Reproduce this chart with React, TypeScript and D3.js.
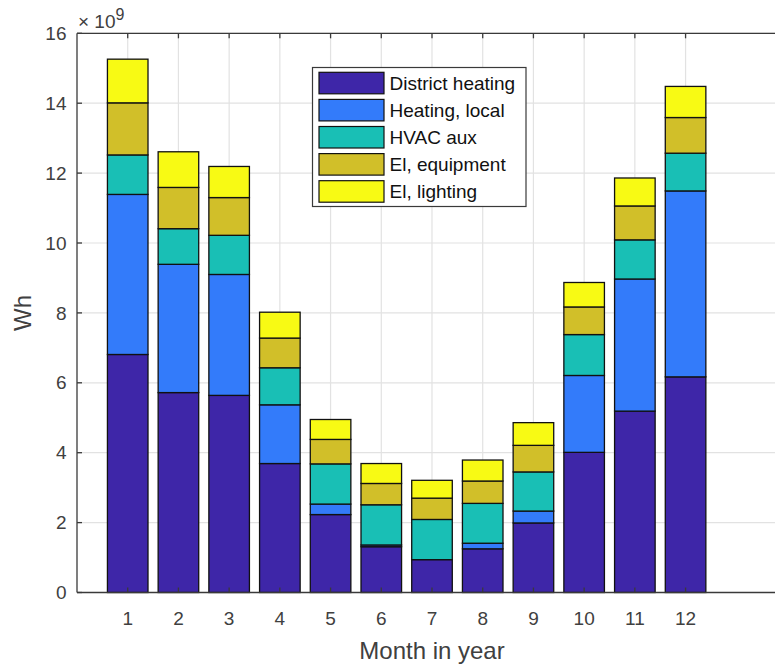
import React from "react";
import * as d3 from "d3";

// Monthly energy use by end use, in units of 1e9 Wh
const months = [1, 2, 3, 4, 5, 6, 7, 8, 9, 10, 11, 12];
const districtHeating = [6.81, 5.72, 5.64, 3.69, 2.23, 1.31, 0.94, 1.25, 1.99, 4.01, 5.19, 6.17];
const heatingLocal = [4.58, 3.67, 3.46, 1.68, 0.30, 0.05, 0.0, 0.16, 0.34, 2.20, 3.78, 5.32];
const hvacAux = [1.13, 1.02, 1.12, 1.06, 1.15, 1.15, 1.15, 1.14, 1.12, 1.17, 1.12, 1.08];
const elEquipment = [1.49, 1.18, 1.08, 0.85, 0.70, 0.61, 0.61, 0.64, 0.76, 0.79, 0.97, 1.02];
const elLighting = [1.25, 1.02, 0.89, 0.74, 0.57, 0.57, 0.51, 0.60, 0.65, 0.70, 0.80, 0.89];

const seriesNames = ["District heating", "Heating, local", "HVAC aux", "El, equipment", "El, lighting"];
const seriesColors = ["#3e26a8", "#337bfa", "#19bfb5", "#d1bf29", "#f8fa14"];
const yTicks = [0, 2, 4, 6, 8, 10, 12, 14, 16];

const W = 775;
const H = 665;
const left = 77;
const right = 787;
const top = 33.3;
const bottom = 592.5;
const font = "'Liberation Sans', Arial, Helvetica, sans-serif";
const textColor = "#404040";
const axisColor = "#3a3a3a";
const gridColor = "#e2e2e2";

export default function App() {
  const x = d3.scaleLinear().domain([0, 14]).range([left, right]);
  const y = d3.scaleLinear().domain([0, 16]).range([bottom, top]);
  const barW = 0.8 * (x(1) - x(0));

  const rows = months.map((m, i) => ({
    month: m,
    "District heating": districtHeating[i],
    "Heating, local": heatingLocal[i],
    "HVAC aux": hvacAux[i],
    "El, equipment": elEquipment[i],
    "El, lighting": elLighting[i],
  }));
  const stacked = d3.stack<any>().keys(seriesNames)(rows);

  const legendX = 312.5;
  const legendY = 67.5;
  const legendW = 213.5;
  const legendH = 139;
  const rowStep = 27.1;

  return (
    <svg
      width={W}
      height={H}
      style={{ position: "absolute", left: 0, top: 0, background: "#fff" }}
      fontFamily={font}
    >
      <rect x={0} y={0} width={W} height={H} fill="#fff" />
      {/* grid */}
      {yTicks.map((t) => (
        <line key={"gy" + t} x1={left} x2={right} y1={y(t)} y2={y(t)} stroke={gridColor} strokeWidth={1.2} />
      ))}
      {months.map((m) => (
        <line key={"gx" + m} x1={x(m)} x2={x(m)} y1={top} y2={bottom} stroke={gridColor} strokeWidth={1.2} />
      ))}

      {/* stacked bars */}
      {stacked.map((s, si) =>
        s.map((d, i) => (
          <rect
            key={si + "-" + i}
            x={x(months[i]) - barW / 2}
            y={y(d[1])}
            width={barW}
            height={Math.max(0, y(d[0]) - y(d[1]))}
            fill={seriesColors[si]}
            stroke="#111"
            strokeWidth={1.3}
          />
        ))
      )}

      {/* axes box */}
      <line x1={left} x2={right} y1={bottom} y2={bottom} stroke={axisColor} strokeWidth={1.3} />
      <line x1={left} x2={right} y1={top} y2={top} stroke={axisColor} strokeWidth={1.3} />
      <line x1={left} x2={left} y1={top} y2={bottom} stroke={axisColor} strokeWidth={1.3} />

      {/* ticks */}
      {months.map((m) => (
        <g key={"tx" + m}>
          <line x1={x(m)} x2={x(m)} y1={bottom} y2={bottom - 5} stroke={axisColor} strokeWidth={1.3} />
          <line x1={x(m)} x2={x(m)} y1={top} y2={top + 5} stroke={axisColor} strokeWidth={1.3} />
          <text x={x(m)} y={625} textAnchor="middle" fontSize={19} fill={textColor}>
            {m}
          </text>
        </g>
      ))}
      {yTicks.map((t) => (
        <g key={"ty" + t}>
          <line x1={left} x2={left + 5} y1={y(t)} y2={y(t)} stroke={axisColor} strokeWidth={1.3} />
          <text x={66.5} y={y(t)} dy="0.35em" textAnchor="end" fontSize={19} fill={textColor}>
            {t}
          </text>
        </g>
      ))}

      {/* exponent */}
      <text x={78} y={28} fontSize={19} fill={textColor}>
        {"× 10"}
        <tspan fontSize={16} dy={-8}>9</tspan>
      </text>

      {/* axis labels */}
      <text x={(left + right) / 2} y={659} textAnchor="middle" fontSize={24} fill={textColor}>
        Month in year
      </text>
      <text
        transform={`translate(31, ${(top + bottom) / 2}) rotate(-90)`}
        textAnchor="middle"
        fontSize={24}
        fill={textColor}
      >
        Wh
      </text>

      {/* legend */}
      <rect x={legendX} y={legendY} width={legendW} height={legendH} fill="#fff" stroke={axisColor} strokeWidth={1.2} />
      {seriesNames.map((name, i) => (
        <g key={name}>
          <rect
            x={319}
            y={72.3 + i * rowStep}
            width={65}
            height={21.5}
            fill={seriesColors[i]}
            stroke="#111"
            strokeWidth={1.2}
          />
          <text x={389.5} y={72.3 + i * rowStep + 10.75} dy="0.35em" fontSize={19} fill="#111">
            {name}
          </text>
        </g>
      ))}
    </svg>
  );
}
